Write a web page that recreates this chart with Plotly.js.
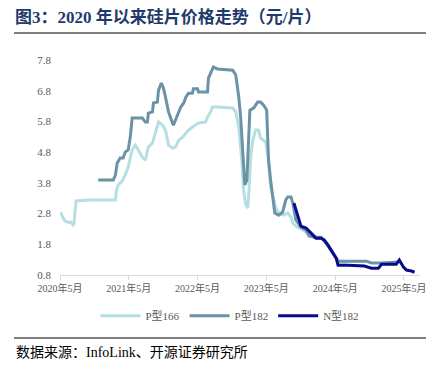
<!DOCTYPE html>
<html><head><meta charset="utf-8">
<script src="https://cdn.plot.ly/plotly-3.0.1.min.js"></script>
<style>body{margin:0;background:#fff}#c{width:426px;height:376px}</style>
</head><body><div id="c"></div>
<script>
const p166Dates = ["2020-05-01","2020-05-11","2020-05-27","2020-06-12","2020-06-28","2020-07-09","2020-07-14","2020-07-25","2020-10-08","2021-02-19","2021-02-25","2021-03-06","2021-03-16","2021-03-27","2021-04-07","2021-04-18","2021-04-28","2021-05-09","2021-05-19","2021-06-05","2021-06-21","2021-07-12","2021-07-28","2021-08-13","2021-09-04","2021-09-20","2021-10-06","2021-10-27","2021-11-12","2021-11-28","2021-12-19","2022-01-05","2022-01-21","2022-02-11","2022-02-28","2022-03-14","2022-04-04","2022-04-20","2022-05-06","2022-06-12","2022-06-23","2022-07-09","2022-07-19","2022-08-05","2022-11-04","2022-11-20","2022-12-06","2022-12-22","2023-01-02","2023-01-13","2023-01-23","2023-01-28","2023-02-08","2023-02-19","2023-03-05","2023-03-21","2023-04-01","2023-04-28","2023-05-13","2023-05-24","2023-06-09","2023-06-20","2023-07-06","2023-08-02","2023-08-23","2023-09-09","2023-09-19","2023-10-05","2023-11-01","2023-11-28","2023-12-24","2024-01-20","2024-02-16","2024-03-13","2024-04-09","2024-05-06","2024-05-21","2024-07-01"];
const p166Values = [2.85,2.72,2.56,2.52,2.52,2.43,2.46,3.21,3.24,3.24,3.57,3.73,3.79,3.86,3.99,4.15,4.31,4.61,4.87,5.03,4.87,4.64,4.54,4.97,5.10,5.42,5.78,5.68,5.52,5.03,4.93,4.97,5.19,5.29,5.42,5.52,5.62,5.68,5.75,5.78,5.94,6.11,6.27,6.27,6.24,6.11,5.62,4.54,3.47,3.08,2.98,3.40,4.71,5.19,5.52,5.52,5.26,5.13,4.54,3.66,3.24,3.01,2.82,2.75,2.82,2.69,2.49,2.39,2.30,2.20,2.07,2.00,2.00,1.87,1.61,1.35,1.22,1.22];

const p182Dates = ["2020-11-20","2021-02-08","2021-02-19","2021-03-01","2021-03-16","2021-04-01","2021-04-12","2021-04-28","2021-05-09","2021-05-19","2021-07-12","2021-07-28","2021-08-08","2021-08-13","2021-09-04","2021-09-09","2021-09-30","2021-10-06","2021-10-21","2021-11-01","2021-11-12","2021-11-28","2021-12-19","2021-12-24","2022-01-15","2022-02-01","2022-02-17","2022-02-28","2022-03-14","2022-04-04","2022-04-09","2022-05-01","2022-05-06","2022-06-23","2022-06-28","2022-07-19","2022-07-24","2022-08-15","2022-11-04","2022-11-20","2022-12-06","2022-12-16","2022-12-27","2023-01-07","2023-01-18","2023-01-23","2023-02-03","2023-02-24","2023-03-16","2023-04-01","2023-04-17","2023-05-03","2023-05-13","2023-05-24","2023-06-04","2023-06-15","2023-07-06","2023-07-27","2023-08-12","2023-08-23","2023-09-09","2023-09-19","2023-10-05","2023-11-01","2023-11-28","2023-12-14","2024-01-10","2024-02-16","2024-03-13","2024-04-09","2024-05-06","2024-05-16","2024-10-13","2024-11-09","2025-01-02","2025-04-01"];
const p182Values = [3.89,3.89,4.05,4.45,4.61,4.61,4.80,4.87,5.29,5.91,5.91,5.78,5.78,6.07,6.11,6.40,6.43,6.82,7.05,6.89,6.59,6.11,5.75,5.68,6.01,6.27,6.40,6.59,6.72,6.72,6.86,6.86,6.76,6.76,7.21,7.47,7.57,7.51,7.47,7.31,6.59,5.94,4.87,3.73,3.89,4.64,6.17,6.24,6.43,6.43,6.33,6.17,4.54,3.89,3.40,2.82,2.75,2.85,3.24,3.34,3.34,3.14,2.59,2.36,2.26,2.07,2.03,2.03,1.84,1.61,1.35,1.25,1.25,1.19,1.19,1.22];

const n182Dates = ["2023-09-25","2023-10-16","2023-11-01","2023-11-28","2023-12-24","2024-01-20","2024-02-16","2024-03-03","2024-03-24","2024-04-09","2024-05-06","2024-05-16","2024-07-09","2024-10-03","2024-11-09","2024-12-16","2025-01-02","2025-03-21","2025-04-06","2025-04-28","2025-05-14","2025-06-10","2025-06-26"];
const n182Values = [3.14,2.75,2.39,2.33,2.16,2.00,2.00,1.94,1.77,1.61,1.35,1.12,1.12,1.09,1.02,1.02,1.15,1.15,1.29,1.06,0.96,0.93,0.89];

const tickDates = ["2020-05-01","2021-05-01","2022-05-01","2023-05-01","2024-05-01","2025-05-01"];
const tickLabels = ["2020年5月","2021年5月","2022年5月","2023年5月","2024年5月","2025年5月"];
const yTicks = [0.8,1.8,2.8,3.8,4.8,5.8,6.8,7.8];
const seriesNames = ["P型166","P型182","N型182"];

const serif = "'Liberation Serif', 'Noto Sans CJK SC', serif";
const traces = [
  {x:p166Dates, y:p166Values, name:seriesNames[0], mode:"lines", line:{color:"#B5DFE3", width:3}},
  {x:p182Dates, y:p182Values, name:seriesNames[1], mode:"lines", line:{color:"#6B93A6", width:3}},
  {x:n182Dates, y:n182Values, name:seriesNames[2], mode:"lines", line:{color:"#0A0A8C", width:3}}
];
const layout = {
  width:426, height:376,
  margin:{l:60, r:6, t:60, b:101},
  paper_bgcolor:"#fff", plot_bgcolor:"#fff",
  showlegend:true,
  title:{text:"<b>图3：2020 年以来硅片价格走势（元/片）</b>", x:15/426, xanchor:"left", xref:"container", y:1-17/376, yanchor:"middle", yref:"container",
    font:{family:serif, size:17, color:"#1F3A6B"}},
  xaxis:{type:"date", range:["2020-05-01","2025-07-25"], tickvals:tickDates, ticktext:tickLabels,
    showgrid:false, zeroline:false, showline:true, linecolor:"#D9D9D9", linewidth:1,
    ticks:"outside", ticklen:4, tickcolor:"#D9D9D9", ticklabeloverflow:"allow",
    tickfont:{family:serif, size:10, color:"#595959"}},
  yaxis:{range:[0.8,7.8], tickvals:yTicks, ticktext:yTicks.map(v=>v.toFixed(1)),
    showgrid:false, zeroline:false, showline:false, ticks:"", ticklabelstandoff:8,
    tickfont:{family:serif, size:11, color:"#595959"}},
  legend:{orientation:"h", x:0.472, xanchor:"center", y:-0.19, yanchor:"middle",
    font:{family:serif, size:11, color:"#595959"}, itemwidth:40, tracegroupgap:0},
  shapes:[
    {type:"line", xref:"paper", yref:"paper", x0:(14-60)/360, x1:(426-60)/360, y0:(275-33)/215, y1:(275-33)/215, line:{color:"#7F7F7F", width:2}},
    {type:"line", xref:"paper", yref:"paper", x0:(14-60)/360, x1:(426-60)/360, y0:(275-338)/215, y1:(275-338)/215, line:{color:"#7F7F7F", width:2}}
  ],
  annotations:[
    {text:"数据来源：InfoLink、开源证券研究所", xref:"paper", yref:"paper", x:(14-60)/360, xanchor:"left", y:(275-352)/215, yanchor:"middle", showarrow:false,
     font:{family:serif, size:14, color:"#000"}}
  ]
};
Plotly.newPlot("c", traces, layout, {displayModeBar:false, staticPlot:true});
</script></body></html>
